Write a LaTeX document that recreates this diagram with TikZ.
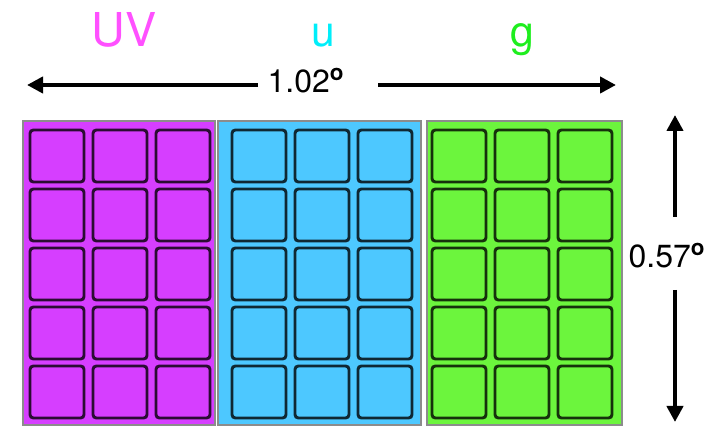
\documentclass[tikz,border=0pt]{standalone}
\usepackage{fontspec}
\setmainfont{TeX Gyre Heros}
\usetikzlibrary{arrows.meta}

\definecolor{magfill}{RGB}{214,62,255}
\definecolor{cyanfill}{RGB}{77,200,255}
\definecolor{limefill}{RGB}{108,245,61}
\definecolor{uvpink}{RGB}{255,80,255}
\definecolor{ucyan}{RGB}{0,238,250}
\definecolor{ggreen}{RGB}{30,238,30}

\newcommand{\degmark}{\textsuperscript{\bfseries o}}

\begin{document}
\begin{tikzpicture}[
        % one unit = one pixel of the layout
        x=0.75pt, y=-0.75pt,
        % Panel style: one filter strip
        panel/.style={draw=black!45, line width=1.3pt},
        % Chip style: rounded cells
        chip/.style={line width=2.2pt, rounded corners=2.5pt},
        % Band names above the strips
        band/.style={anchor=base, font=\fontsize{35}{35}\selectfont},
        % Size labels
        sizelabel/.style={anchor=base, font=\fontsize{24}{24}\selectfont},
        % Arrow style
        >={Triangle[length=12pt,width=12pt]},
        dim/.style={->, line width=3pt}
    ]
    \useasboundingbox (0,0) rectangle (719,427);

    %% ---- Strips: UV, u, g ----
    \foreach \l/\r/\c/\col in {23/215/30/magfill, 218/421/232/cyanfill, 427/622/432/limefill} {
        \draw[panel, fill=\col] (\l,121) rectangle (\r,425);
        \foreach \i in {0,1,2}
            \foreach \j in {0,...,4}
                \draw[chip, fill=\col, draw=black!80!\col]
                ({\c+63*\i},{130+59*\j}) rectangle ++(54,52);
    }

    %% ---- Band names ----
    \node[band, color=uvpink] (UV) at (124,47) {UV};
    \node[band, color=ucyan, font=\fontsize{32}{32}\selectfont] (u) at (323,47) {u};
    \node[band, color=ggreen, font=\fontsize{32}{32}\selectfont] (g) at (522,47) {g};

    %% ---- Width arrow ----
    \node[sizelabel] (width) at (306,93) {1.02\degmark};
    \coordinate (wl) at (27,85);
    \coordinate (wr) at (616,85);
    \coordinate (wla) at (258,85);
    \coordinate (wra) at (378,85);
    \draw[dim] (wla) -- (wl);
    \draw[dim] (wra) -- (wr);

    %% ---- Height arrow ----
    \node[sizelabel] (height) at (667,268) {0.57\degmark};
    \coordinate (ht) at (675,115);
    \coordinate (hb) at (675,422);
    \coordinate (hta) at (675,217);
    \coordinate (hba) at (675,290);
    \draw[dim] (hta) -- (ht);
    \draw[dim] (hba) -- (hb);

\end{tikzpicture}
\end{document}
